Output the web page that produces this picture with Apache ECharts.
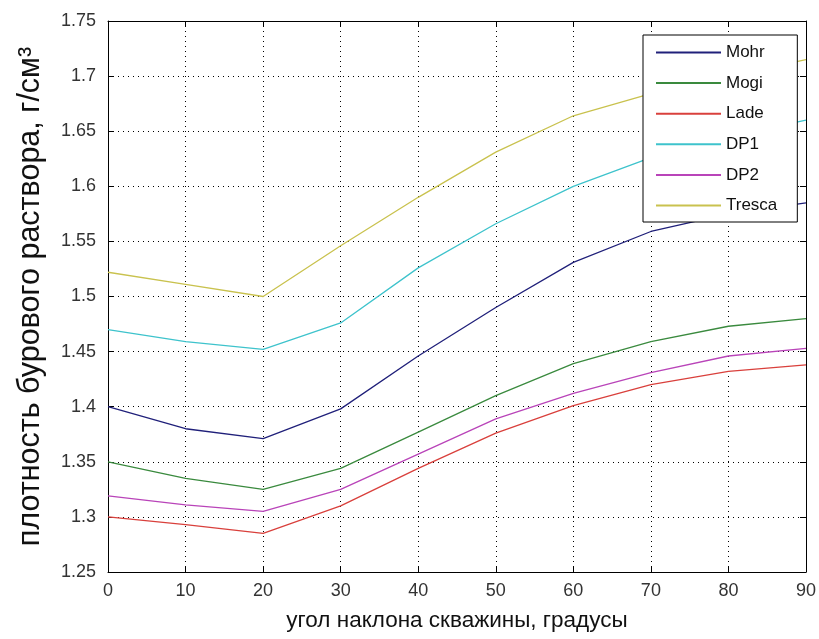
<!DOCTYPE html>
<html>
<head>
<meta charset="utf-8">
<script src="https://cdn.jsdelivr.net/npm/echarts@6/dist/echarts.min.js"></script>
<style>
  html, body { margin: 0; padding: 0; background: #fff; }
  #chart { width: 819px; height: 639px; }
</style>
</head>
<body>
<div id="chart"></div>
<script>
// Well inclination angle, degrees
const angles = [0, 10, 20, 30, 40, 50, 60, 70, 80, 90];

// Required mud density, g/cm3, by failure criterion
const mohr   = [1.400, 1.380, 1.371, 1.398, 1.446, 1.490, 1.531, 1.559, 1.575, 1.585];
const mogi   = [1.350, 1.335, 1.325, 1.344, 1.377, 1.410, 1.439, 1.459, 1.473, 1.480];
const lade   = [1.300, 1.293, 1.285, 1.310, 1.344, 1.376, 1.401, 1.420, 1.432, 1.438];
const dp1    = [1.470, 1.459, 1.452, 1.476, 1.526, 1.566, 1.600, 1.626, 1.645, 1.660];
const dp2    = [1.319, 1.311, 1.305, 1.325, 1.357, 1.389, 1.412, 1.431, 1.446, 1.453];
const tresca = [1.522, 1.511, 1.500, 1.546, 1.590, 1.631, 1.664, 1.684, 1.700, 1.715];

const seriesNames = ['Mohr', 'Mogi', 'Lade', 'DP1', 'DP2', 'Tresca'];
const seriesValues = [mohr, mogi, lade, dp1, dp2, tresca];
const seriesColors = ['#20207a', '#3a8a3e', '#d9403c', '#3ec3cc', '#b944b9', '#c9c24e'];

const font = 'Liberation Sans, Arial, sans-serif';

const chart = echarts.init(document.getElementById('chart'), null, { renderer: 'canvas' });

const axisCommon = {
  axisLine: { show: true, onZero: false, lineStyle: { color: '#000', width: 1 } },
  axisTick: { show: true, inside: true, length: 6, lineStyle: { color: '#000', width: 1 } }
};

chart.setOption({
  animation: false,
  backgroundColor: '#fff',
  grid: { left: 108, right: 13, top: 21, bottom: 67, containLabel: false },
  legend: {
    orient: 'vertical',
    left: 643,
    top: 35,
    padding: [9, 20, 8, 12],
    itemWidth: 65,
    itemHeight: 17,
    itemGap: 13.6,
    backgroundColor: '#fff',
    borderColor: '#000',
    borderWidth: 1,
    borderRadius: 0,
    itemStyle: { opacity: 0 },
    textStyle: { fontFamily: font, fontSize: 17, color: '#111' },
    data: seriesNames
  },
  xAxis: [
    Object.assign({}, axisCommon, {
      type: 'value', min: 0, max: 90, interval: 10, position: 'bottom',
      name: 'угол наклона скважины, градусы',
      nameLocation: 'middle', nameGap: 37,
      nameTextStyle: { fontFamily: font, fontSize: 22.5, color: '#111' },
      axisLabel: { fontFamily: font, fontSize: 18, color: '#333', margin: 10 },
      splitLine: { show: true, lineStyle: { color: '#000', type: [1, 4], width: 1 } }
    }),
    Object.assign({}, axisCommon, {
      type: 'value', min: 0, max: 90, interval: 10, position: 'top',
      axisLabel: { show: false }, splitLine: { show: false }
    })
  ],
  yAxis: [
    Object.assign({}, axisCommon, {
      type: 'value', min: 1.25, max: 1.75, interval: 0.05, position: 'left',
      name: 'плотность бурового раствора, г/см³',
      nameLocation: 'middle', nameGap: 62, nameRotate: 90,
      nameTextStyle: { fontFamily: font, fontSize: 30.5, color: '#111' },
      axisLabel: { fontFamily: font, fontSize: 18, color: '#333', margin: 12 },
      splitLine: { show: true, lineStyle: { color: '#000', type: [1, 4], width: 1 } }
    }),
    Object.assign({}, axisCommon, {
      type: 'value', min: 1.25, max: 1.75, interval: 0.05, position: 'right',
      axisLabel: { show: false }, splitLine: { show: false }
    })
  ],
  series: seriesNames.map((name, i) => ({
    name: name,
    type: 'line',
    xAxisIndex: 0,
    yAxisIndex: 0,
    symbol: 'none',
    color: seriesColors[i],
    lineStyle: { color: seriesColors[i], width: 1.3 },
    data: angles.map((a, j) => [a, seriesValues[i][j]])
  }))
});
</script>
</body>
</html>
